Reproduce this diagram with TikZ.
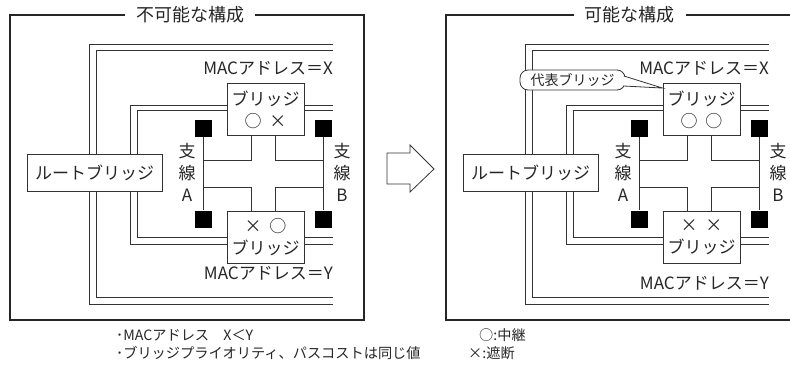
\documentclass[tikz,border=0pt]{standalone}
\usepackage{fontspec}
\setmainfont{Noto Sans CJK JP}
\usepackage{tikz}
\usetikzlibrary{positioning}
\tikzset{
    txt/.style = {inner sep=0pt, text=black!85, font=\fontsize{17}{22}\selectfont},
    panelframe/.style = {draw=black!85, line width=1.1pt},
    paneltitle/.style = {txt, fill=white, inner xsep=11pt, inner ysep=2pt, font=\fontsize{18}{22}\selectfont},
    lan/.style = {draw=black!80, line width=0.8pt},
    link/.style = {draw=black!80, line width=0.9pt},
    box/.style = {draw=black!80, fill=white, line width=0.9pt, align=center, inner sep=0pt, text=black!85, font=\fontsize{17}{22}\selectfont},
    root_bridge/.style = {box, minimum width=135pt, minimum height=37pt},
    bridge/.style = {box, minimum width=77pt, minimum height=52pt},
    port/.style = {fill=black, inner sep=0pt, minimum size=17pt},
    note/.style = {inner sep=0pt, anchor=west, text=black!85, font=\fontsize{14.2}{18}\selectfont},
    rep_callout/.style = {draw=black!80, fill=white, line width=0.8pt, rounded corners=8pt, inner xsep=4pt, minimum width=105pt, minimum height=20pt, text=black!85, font=\fontsize{14}{16}\selectfont}
}

\begin{document}
\begin{tikzpicture}[x=1pt, y=-1pt]
    \useasboundingbox (0,0) rectangle (790,376);
    \clip (0,0) rectangle (790,376);

    \foreach \dx/\p/\ttl/\tx/\mt/\mb/\yy in
        {0/L/不可能な構成/190/{○\hspace{8pt}×}/{×\hspace{8pt}○}/273,
         436/R/可能な構成/193.5/{○\hspace{8pt}○}/{×\hspace{8pt}×}/283}
    {
    \begin{scope}[xshift=\dx pt, name prefix=\p-]
        % frame and title
        \draw[panelframe] (10,15) rectangle (364,320);
        \node[paneltitle] (title) at (\tx,15) {\ttl};

        % double-line LANs, open to the right
        \foreach \s in {-3.2,3.2} {
            \draw[lan] (333,47.5+\s) -| (93+\s,174) |- (333,301-\s);
            \draw[lan] (333,107.5+\s*0.8) -| (134+\s,174) |- (333,241-\s);
        }

        \node[txt, anchor=east] (macX) at (333,68) {MACアドレス＝X};
        \node[txt, anchor=east] (macY) at (333,\yy) {MACアドレス＝Y};

        % bridges
        \node[root_bridge] (root) at (94.5,172.5) {ルートブリッジ};
        \node[bridge] (tb) at (265.5,109.5) {ブリッジ\\\mt};
        \node[bridge] (bb) at (265.5,237) {\mb\\ブリッジ};

        % branch lines A and B
        \node[port] (pa1) at (203.5,128.5) {};
        \node[port] (pa2) at (203.5,219) {};
        \node[port] (pb1) at (323.5,128.5) {};
        \node[port] (pb2) at (323.5,219) {};
        \draw[link] (pa1) -- (pa2);
        \draw[link] (pb1) -- (pb2);
        \node[txt, align=center] (labA) at (187,172) {支\\線\\A};
        \node[txt, align=center] (labB) at (342,172) {支\\線\\B};

        \coordinate (a1) at (203.5,160);
        \coordinate (a2) at (203.5,187);
        \coordinate (b1) at (323.5,160);
        \coordinate (b2) at (323.5,187);
        \draw[link] ([xshift=-14.5pt]tb.south) |- (a1);
        \draw[link] ([xshift=9.5pt]tb.south) |- (b1);
        \draw[link] ([xshift=-14.5pt]bb.north) |- (a2);
        \draw[link] ([xshift=9.5pt]bb.north) |- (b2);
    \end{scope}
    }

    % designated bridge callout
    \node[rep_callout] (rep) at (572.5,80) {代表ブリッジ};
    \coordinate (tip) at ([yshift=-5pt]R-tb.north west);
    \draw[draw=black!80, line width=0.8pt, fill=white]
        ([xshift=-1.5pt, yshift=4pt]rep.east) -- (tip) -- ([xshift=-1.5pt, yshift=-6pt]rep.east);

    % arrow between panels
    \draw[link, line width=0.8pt, fill=white]
        (387,153) -- (410,153) -- (410,145) -- (434,169) -- (410,192) -- (410,184) -- (387,184) -- cycle;

    % notes
    \node[note] (note1) at (116,335) {･MACアドレス　X＜Y};
    \node[note] (note2) at (116,353) {･ブリッジプライオリティ、パスコストは同じ値};
    \node[note] (keyo) at (479,335) {○:中継};
    \node[note] (keyx) at (468,353) {×:遮断};
\end{tikzpicture}
\end{document}
